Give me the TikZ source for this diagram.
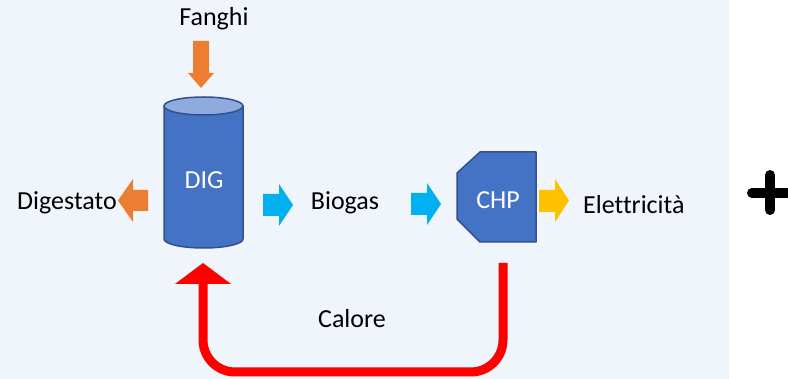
\documentclass[tikz,border=0pt]{standalone}
\usepackage{fontspec}
\setmainfont{Carlito}[Ligatures={NoCommon}]
\definecolor{panel}{RGB}{240,244,251}
\definecolor{oblue}{RGB}{68,114,196}
\definecolor{oborder}{RGB}{47,82,143}
\definecolor{otop}{RGB}{143,170,220}
\definecolor{oorange}{RGB}{237,125,49}
\definecolor{ocyan}{RGB}{0,176,240}
\definecolor{oyellow}{RGB}{255,192,0}
\begin{document}
\begin{tikzpicture}[x=1pt,y=-1pt,
  lbl/.style={font=\fontsize{26}{31}\selectfont, text=black, inner sep=0pt},
  wlbl/.style={font=\fontsize{26}{31}\selectfont, text=white, inner sep=0pt},
  shapebd/.style={draw=oborder, line width=1.5pt, line join=round}]
\useasboundingbox (0,0) rectangle (788,379);
\fill[panel] (0,0) rectangle (729,379);
% texts
\node[lbl] (fanghi) at (214,19) {Fanghi};
\node[lbl, anchor=east] (digestato) at (117,203) {Digestato};
\node[lbl] (biogas) at (345,203) {Biogas};
\node[lbl, anchor=west] (elettricita) at (583,205) {Elettricità};
\node[lbl] (calore) at (352,319) {Calore};
% cylinder DIG
\path[fill=oblue, shapebd] (164,106) -- (164,239) arc[start angle=180, end angle=360, x radius=39.5, y radius=-9] -- (243,106) -- cycle;
\path[fill=otop, shapebd] (203.5,106) ellipse[x radius=39.5, y radius=9];
\node[wlbl] (dig) at (204,180) {DIG};
% CHP
\path[fill=oblue, shapebd] (480,152) -- (536,152) -- (536,242) -- (480,242) -- (457,219) -- (457,173) -- cycle;
\node[wlbl] (chp) at (498,200) {CHP};
% block arrows
\fill[oorange] (193,41) -- (209,41) -- (209,73) -- (214,73) -- (201,88) -- (188,73) -- (193,73) -- cycle;
\fill[oorange] (148,190) -- (148,211) -- (133,211) -- (133,222) -- (118,200.5) -- (133,179) -- (133,190) -- cycle;
\fill[ocyan] (263,194) -- (279,194) -- (279,184) -- (293,205) -- (279,226) -- (279,216) -- (263,216) -- cycle;
\fill[ocyan] (411,193) -- (427,193) -- (427,183) -- (441,204) -- (427,225) -- (427,215) -- (411,215) -- cycle;
\fill[oyellow] (539,190) -- (555,190) -- (555,179) -- (569,200.5) -- (555,222) -- (555,212) -- (539,212) -- cycle;
% red heat return
\coordinate (redstart) at (503,263);
\coordinate (redend) at (203,284);
\draw[red, line width=9pt, rounded corners=32pt] (redstart) -- (503,372) -- (203,372) -- (redend);
\fill[red] (175,284) -- (231,284) -- (203,263) -- cycle;
% plus
\draw[black, line width=10pt, line cap=round] (752,193) -- (787,193);
\draw[black, line width=10pt, line cap=round] (770,175) -- (770,210);
\end{tikzpicture}
\end{document}
